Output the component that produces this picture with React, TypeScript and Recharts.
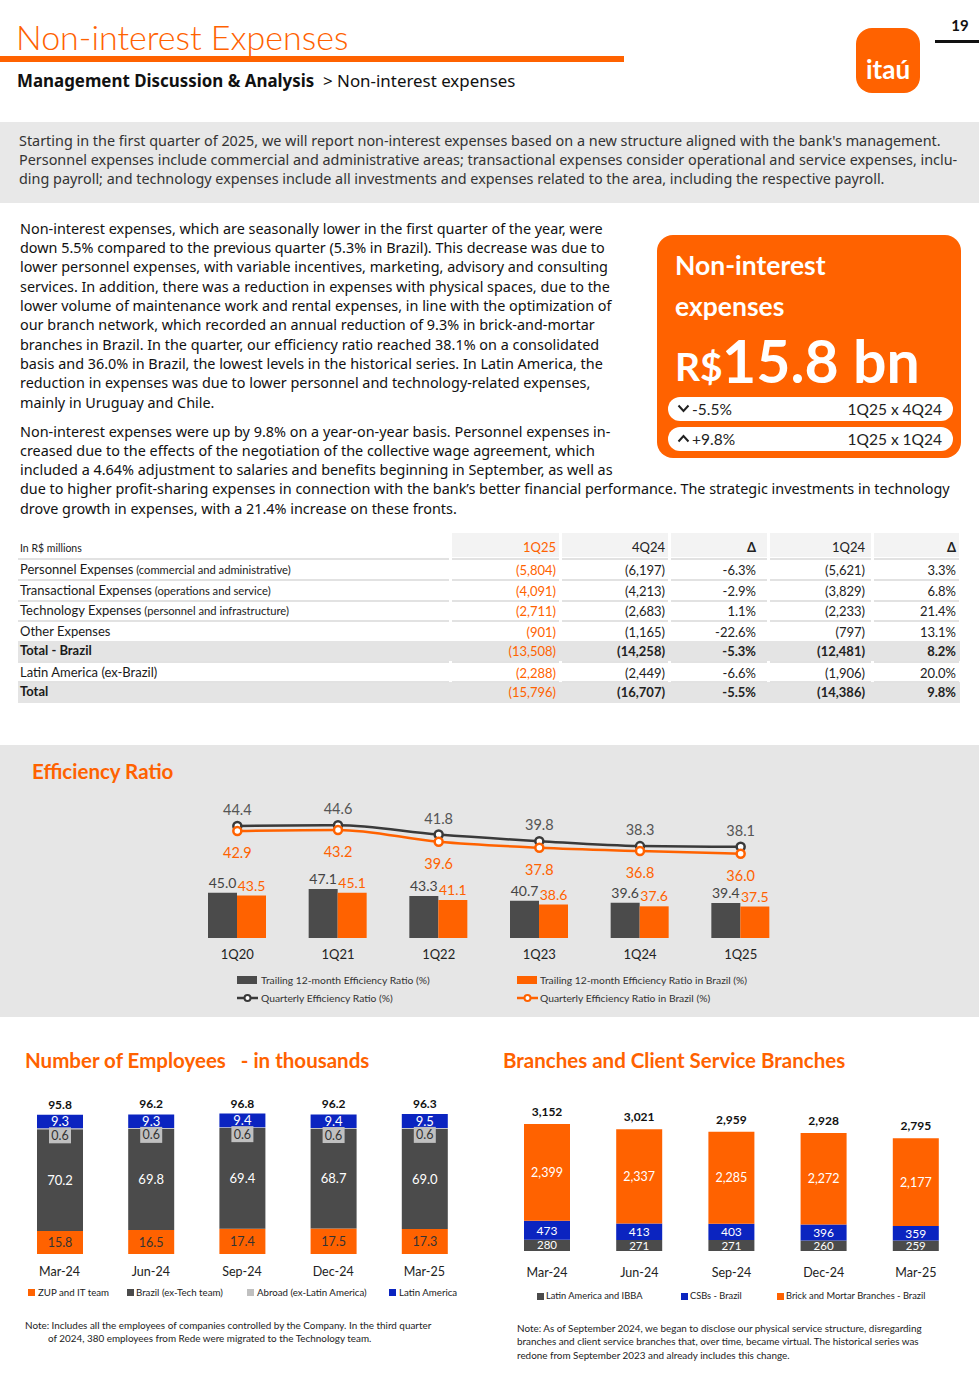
import React from 'react';
import { ComposedChart, BarChart, Bar, Line, XAxis, YAxis, LabelList } from 'recharts';

const ORANGE = '#ff6200';
const DARK = '#4b4b4b';
const BLUE = '#0b24c0';
const LGREY = '#c0c0c0';
const TXT = '#1a1a1a';
const FONT = 'Lato, "Noto Sans", sans-serif';
const BODY = '"Noto Sans", Lato, sans-serif';

// ---------- Efficiency ratio ----------
const effQuarters = ['1Q20', '1Q21', '1Q22', '1Q23', '1Q24', '1Q25'];
const effTrailing = [45.0, 47.1, 43.3, 40.7, 39.6, 39.4];
const effTrailingBrazil = [43.5, 45.1, 41.1, 38.6, 37.6, 37.5];
const effQuarterly = [44.4, 44.6, 41.8, 39.8, 38.3, 38.1];
const effQuarterlyBrazil = [42.9, 43.2, 39.6, 37.8, 36.8, 36.0];

// ---------- Employees (thousands) ----------
const empDates = ['Mar-24', 'Jun-24', 'Sep-24', 'Dec-24', 'Mar-25'];
const empZup = [15.8, 16.5, 17.4, 17.5, 17.3];
const empBrazil = [70.2, 69.8, 69.4, 68.7, 69.0];
const empAbroad = [0.6, 0.6, 0.6, 0.6, 0.6];
const empLatam = [9.3, 9.3, 9.4, 9.4, 9.5];
const empTotal = [95.8, 96.2, 96.8, 96.2, 96.3];

// ---------- Branches ----------
const brDates = ['Mar-24', 'Jun-24', 'Sep-24', 'Dec-24', 'Mar-25'];
const brLatam = [280, 271, 271, 260, 259];
const brCsb = [473, 413, 403, 396, 359];
const brBrick = [2399, 2337, 2285, 2272, 2177];
const brTotal = [3152, 3021, 2959, 2928, 2795];

// ---------- Table ----------
const tableCols = ['1Q25', '4Q24', 'Δ', '1Q24', 'Δ'];
const tableLabels = ['Personnel Expenses', 'Transactional Expenses', 'Technology Expenses', 'Other Expenses', 'Total - Brazil', 'Latin America (ex-Brazil)', 'Total'];
const tableSubs = ['(commercial and administrative)', '(operations and service)', '(personnel and infrastructure)', '', '', '', ''];
const table1Q25 = ['(5,804)', '(4,091)', '(2,711)', '(901)', '(13,508)', '(2,288)', '(15,796)'];
const table4Q24 = ['(6,197)', '(4,213)', '(2,683)', '(1,165)', '(14,258)', '(2,449)', '(16,707)'];
const tableDeltaQ = ['-6.3%', '-2.9%', '1.1%', '-22.6%', '-5.3%', '-6.6%', '-5.5%'];
const table1Q24 = ['(5,621)', '(3,829)', '(2,233)', '(797)', '(12,481)', '(1,906)', '(14,386)'];
const tableDeltaY = ['3.3%', '6.8%', '21.4%', '13.1%', '8.2%', '20.0%', '9.8%'];
const tableBold = [false, false, false, false, true, false, true];

// ---------- Text ----------
const introLines = [
  "Starting in the first quarter of 2025, we will report non-interest expenses based on a new structure aligned with the bank's management.",
  'Personnel expenses include commercial and administrative areas; transactional expenses consider operational and service expenses, inclu-',
  'ding payroll; and technology expenses include all investments and expenses related to the area, including the respective payroll.',
];
const para1 = [
  'Non-interest expenses, which are seasonally lower in the first quarter of the year, were',
  'down 5.5% compared to the previous quarter (5.3% in Brazil). This decrease was due to',
  'lower personnel expenses, with variable incentives, marketing, advisory and consulting',
  'services. In addition, there was a reduction in expenses with physical spaces, due to the',
  'lower volume of maintenance work and rental expenses, in line with the optimization of',
  'our branch network, which recorded an annual reduction of 9.3% in brick-and-mortar',
  'branches in Brazil. In the quarter, our efficiency ratio reached 38.1% on a consolidated',
  'basis and 36.0% in Brazil, the lowest levels in the historical series. In Latin America, the',
  'reduction in expenses was due to lower personnel and technology-related expenses,',
  'mainly in Uruguay and Chile.',
];
const para2 = [
  'Non-interest expenses were up by 9.8% on a year-on-year basis. Personnel expenses in-',
  'creased due to the effects of the negotiation of the collective wage agreement, which',
  'included a 4.64% adjustment to salaries and benefits beginning in September, as well as',
  'due to higher profit-sharing expenses in connection with the bank’s better financial performance. The strategic investments in technology',
  'drove growth in expenses, with a 21.4% increase on these fronts.',
];

type TP = { x: number; y: number; size?: number; color?: string; weight?: number; align?: 'left' | 'right' | 'center'; children?: React.ReactNode; lh?: number; family?: string; ls?: number };
function T({ x, y, size = 14, color = TXT, weight = 400, align = 'left', children, lh, family = FONT, ls }: TP) {
  const lineH = lh ?? Math.round(size * 1.3);
  const style: React.CSSProperties = { position: 'absolute', top: y - lineH / 2, fontSize: size, lineHeight: lineH + 'px', color, fontWeight: weight, whiteSpace: 'nowrap', fontFamily: family };
  if (ls !== undefined) style.letterSpacing = ls;
  if (align === 'right') style.right = 979 - x;
  else if (align === 'center') { style.left = x; style.transform = 'translateX(-50%)'; }
  else style.left = x;
  return <div style={style}>{children}</div>;
}

function Box({ x, y, w, h, bg, r = 0 }: { x: number; y: number; w: number; h: number; bg: string; r?: number }) {
  return <div style={{ position: 'absolute', left: x, top: y, width: w, height: h, background: bg, borderRadius: r }} />;
}

const vbOf = (p: any) => {
  const vb = p.viewBox || {};
  return { x: vb.x ?? p.x, y: vb.y ?? p.y, width: vb.width ?? p.width ?? 0, height: vb.height ?? p.height ?? 0 };
};

const centerLabel = (color: string, size: number, fmt: (v: number) => string = (v) => String(v), weight = 400) => (p: any) => {
  const { x, y, width, height } = vbOf(p);
  return (
    <text x={x + width / 2} y={y + height / 2} dy={size * 0.36} textAnchor="middle" fill={color} fontSize={size} fontWeight={weight} fontFamily={FONT}>
      {fmt(Number(p.value))}
    </text>
  );
};

const topLabel = (color: string, size: number, gap: number, fmt: (v: number) => string = (v) => String(v), weight = 400) => (p: any) => {
  const { x, y, width } = vbOf(p);
  return (
    <text x={x + width / 2} y={y - gap} textAnchor="middle" fill={color} fontSize={size} fontWeight={weight} fontFamily={FONT}>
      {fmt(Number(p.value))}
    </text>
  );
};

const pointLabel = (color: string, size: number, dyBaseline: number) => (p: any) => {
  const { x, y } = vbOf(p);
  return (
    <text x={x} y={y + dyBaseline} textAnchor="middle" fill={color} fontSize={size} fontFamily={FONT}>
      {Number(p.value).toFixed(1)}
    </text>
  );
};

const abroadLabel = (p: any) => {
  const { x, y, width } = vbOf(p);
  const cx = x + width / 2;
  return (
    <g>
      <rect x={cx - 11} y={y - 1} width={22} height={16} fill={LGREY} />
      <text x={cx} y={y + 11.5} textAnchor="middle" fill="#333" fontSize={12.5} fontFamily={FONT}>{Number(p.value).toFixed(1)}</text>
    </g>
  );
};

const xTick = (offset: number, size: number) => (props: any) => {
  const { x, y, payload } = props;
  return (
    <text x={x} y={y + offset} textAnchor="middle" fill="#222" fontSize={size} fontFamily={FONT}>{payload.value}</text>
  );
};

const effData = effQuarters.map((q, i) => ({ q, t: effTrailing[i], tb: effTrailingBrazil[i], qr: effQuarterly[i], qb: effQuarterlyBrazil[i] }));
const empData = empDates.map((d, i) => ({ d, zup: empZup[i], br: empBrazil[i], ab: empAbroad[i], la: empLatam[i], total: empTotal[i] }));
const brData = brDates.map((d, i) => ({ d, la: brLatam[i], csb: brCsb[i], brick: brBrick[i], total: brTotal[i] }));
const fmtComma = (v: number) => v.toLocaleString('en-US');
const fmt1 = (v: number) => v.toFixed(1);

function EfficiencyChart() {
  return (
    <div style={{ position: 'absolute', left: 187, top: 780 }}>
      <ComposedChart width={604} height={188} data={effData} margin={{ top: 10, right: 0, bottom: 0, left: 0 }} barGap={0} barCategoryGap="21%">
        <XAxis dataKey="q" axisLine={false} tickLine={false} tickSize={0} tickMargin={0} height={30} interval={0} tick={xTick(20.5, 13)} />
        <YAxis yAxisId="b" hide domain={[20.2, 101.5]} allowDataOverflow />
        <YAxis yAxisId="l" hide domain={[10.46, 55.3]} allowDataOverflow />
        <Bar yAxisId="b" dataKey="t" fill={DARK} barSize={29} isAnimationActive={false}>
          <LabelList dataKey="t" content={topLabel('#444', 14, 5, fmt1)} />
        </Bar>
        <Bar yAxisId="b" dataKey="tb" fill={ORANGE} barSize={29} isAnimationActive={false}>
          <LabelList dataKey="tb" content={topLabel(ORANGE, 14, 5, fmt1)} />
        </Bar>
        <Line yAxisId="l" type="monotone" dataKey="qr" stroke="#3a3a3a" strokeWidth={2.5} dot={{ r: 4, fill: '#fff', stroke: '#3a3a3a', strokeWidth: 2.5 }} isAnimationActive={false}>
          <LabelList dataKey="qr" content={pointLabel('#555', 14.5, -11)} />
        </Line>
        <Line yAxisId="l" type="monotone" dataKey="qb" stroke={ORANGE} strokeWidth={2.5} dot={{ r: 4, fill: '#fff', stroke: ORANGE, strokeWidth: 2.5 }} isAnimationActive={false}>
          <LabelList dataKey="qb" content={pointLabel(ORANGE, 14.5, 27)} />
        </Line>
      </ComposedChart>
    </div>
  );
}

function EmployeesChart() {
  return (
    <div style={{ position: 'absolute', left: 14, top: 1085 }}>
      <BarChart width={456} height={199} data={empData} margin={{ top: 5, right: 0, bottom: 0, left: 0 }}>
        <XAxis dataKey="d" axisLine={false} tickLine={false} tickSize={0} tickMargin={0} height={30} interval={0} tick={xTick(21.5, 12.5)} />
        <YAxis hide domain={[0, 113]} allowDataOverflow />
        <Bar dataKey="zup" stackId="a" fill={ORANGE} barSize={46} isAnimationActive={false}>
          <LabelList dataKey="zup" content={centerLabel('#333', 12.5, fmt1)} />
        </Bar>
        <Bar dataKey="br" stackId="a" fill={DARK} barSize={46} isAnimationActive={false}>
          <LabelList dataKey="br" content={centerLabel('#fff', 13, fmt1)} />
        </Bar>
        <Bar dataKey="ab" stackId="a" fill={LGREY} barSize={46} isAnimationActive={false}>
          <LabelList dataKey="ab" content={abroadLabel} />
        </Bar>
        <Bar dataKey="la" stackId="a" fill={BLUE} barSize={46} isAnimationActive={false}>
          <LabelList dataKey="la" content={centerLabel('#fff', 13, fmt1)} />
          <LabelList dataKey="total" content={topLabel('#111', 12, 6, fmt1, 700)} />
        </Bar>
      </BarChart>
    </div>
  );
}

function BranchesChart() {
  return (
    <div style={{ position: 'absolute', left: 501, top: 1085 }}>
      <BarChart width={461} height={196} data={brData} margin={{ top: 5, right: 0, bottom: 0, left: 0 }}>
        <XAxis dataKey="d" axisLine={false} tickLine={false} tickSize={0} tickMargin={0} height={30} interval={0} tick={xTick(25.5, 12.5)} />
        <YAxis hide domain={[0, 3995]} allowDataOverflow />
        <Bar dataKey="la" stackId="a" fill={DARK} barSize={46} isAnimationActive={false}>
          <LabelList dataKey="la" content={centerLabel('#fff', 11.5, fmtComma)} />
        </Bar>
        <Bar dataKey="csb" stackId="a" fill={BLUE} barSize={46} isAnimationActive={false}>
          <LabelList dataKey="csb" content={centerLabel('#fff', 12, fmtComma)} />
        </Bar>
        <Bar dataKey="brick" stackId="a" fill={ORANGE} barSize={46} isAnimationActive={false}>
          <LabelList dataKey="brick" content={centerLabel('#fff', 12.5, fmtComma)} />
          <LabelList dataKey="total" content={topLabel('#111', 12, 8, fmtComma, 700)} />
        </Bar>
      </BarChart>
    </div>
  );
}

function Chevron({ x, y, up }: { x: number; y: number; up?: boolean }) {
  return (
    <svg style={{ position: 'absolute', left: x, top: y }} width={13} height={9}>
      <path d={up ? 'M1.5 7.5 L6.5 2 L11.5 7.5' : 'M1.5 1.5 L6.5 7 L11.5 1.5'} stroke="#222" strokeWidth={2} fill="none" />
    </svg>
  );
}

function LegendSquare({ x, y, color, w = 7, h = 7 }: { x: number; y: number; color: string; w?: number; h?: number }) {
  return <Box x={x} y={y - h / 2} w={w} h={h} bg={color} />;
}

function LegendLine({ x, y, color }: { x: number; y: number; color: string }) {
  return (
    <svg style={{ position: 'absolute', left: x, top: y - 5 }} width={21} height={10}>
      <line x1={0} y1={5} x2={21} y2={5} stroke={color} strokeWidth={2.5} />
      <circle cx={10.5} cy={5} r={3} fill="#fff" stroke={color} strokeWidth={2} />
    </svg>
  );
}

function Table() {
  const colCells = [[452, 559], [562, 668], [671, 767], [770, 871], [874, 959]];
  const colRight = [556, 665, 756, 865, 956];
  const rowY = [569, 590, 610, 631, 650, 672, 691];
  const cols = [table1Q25, table4Q24, tableDeltaQ, table1Q24, tableDeltaY];
  const sepY = [558, 579, 600, 620, 661, 681];
  const segs = [[18, 449], ...colCells];
  return (
    <>
      {colCells.map((c, i) => <Box key={'h' + i} x={c[0]} y={533} w={c[1] - c[0]} h={24} bg="#f3f3f3" />)}
      <Box x={18} y={641} w={942} h={20} bg="#e4e4e4" />
      <Box x={18} y={682} w={942} h={21} bg="#e4e4e4" />
      {sepY.map((y) => segs.map((s, j) => <Box key={y + '-' + j} x={s[0]} y={y} w={s[1] - s[0]} h={1.5} bg="#e2e2e2" />))}
      <T x={20} y={548} size={10.5} color="#222">In R$ millions</T>
      {tableCols.map((c, i) => (
        <T key={'c' + i} x={colRight[i]} y={547} size={13} align="right" color={i === 0 ? ORANGE : '#222'} weight={c === 'Δ' ? 700 : 400}>{c}</T>
      ))}
      {tableLabels.map((l, r) => (
        <T key={'l' + r} x={20} y={rowY[r]} size={13} weight={tableBold[r] ? 700 : 400}>
          {l}{tableSubs[r] ? <span style={{ fontSize: 11.2 }}> {tableSubs[r]}</span> : null}
        </T>
      ))}
      {cols.map((col, i) => col.map((v, r) => (
        <T key={i + '-' + r} x={colRight[i]} y={rowY[r] + 1} size={13} align="right" color={i === 0 ? ORANGE : '#222'} weight={tableBold[r] && i > 0 ? 700 : 400}>{v}</T>
      )))}
    </>
  );
}

export default function App() {
  return (
    <div style={{ position: 'relative', width: 979, height: 1393, background: '#fff', overflow: 'hidden', fontFamily: FONT }}>
      <style>{'body{margin:0;}'}</style>
      {/* Header */}
      <T x={16} y={37} size={34} weight={300} color={ORANGE}>Non-interest Expenses</T>
      <Box x={0} y={56} w={624} h={6} bg={ORANGE} />
      <T x={17} y={81} size={16.9} color="#111" family={BODY}><b>Management Discussion &amp; Analysis</b>&nbsp; &gt; Non-interest expenses</T>
      <T x={960} y={25} size={15} weight={700} align="center" color="#111">19</T>
      <Box x={935} y={40} w={44} h={3} bg="#111" />
      <Box x={856} y={28} w={64} h={65} bg={ORANGE} r={16} />
      <T x={888} y={69} size={26} weight={700} align="center" color="#fff">itaú</T>

      {/* Intro grey box */}
      <Box x={0} y={122} w={979} h={81} bg="#e8e8e8" />
      {introLines.map((l, i) => <T key={'i' + i} x={19} y={140 + i * 19} size={14.4} color="#333" family={BODY}>{l}</T>)}

      {/* Paragraphs */}
      {para1.map((l, i) => <T key={'p1' + i} x={20} y={228 + i * 19.35} size={14.4} color="#111" family={BODY}>{l}</T>)}
      {para2.map((l, i) => <T key={'p2' + i} x={20} y={431 + i * 19.3} size={14.4} color="#111" family={BODY}>{l}</T>)}

      {/* Highlight card */}
      <Box x={657} y={235} w={304} h={223} bg={ORANGE} r={16} />
      <T x={675} y={265} size={26.5} weight={700} color="#fff">Non-interest</T>
      <T x={675} y={306} size={26.5} weight={700} color="#fff">expenses</T>
      <T x={675} y={366} size={39} weight={700} color="#fff">R$</T>
      <T x={722} y={360} size={59} weight={700} color="#fff">15.8 bn</T>
      <Box x={668} y={397} w={285} h={24} bg="#fff" r={12} />
      <Box x={668} y={427} w={285} h={24} bg="#fff" r={12} />
      <Chevron x={677} y={404} />
      <Chevron x={677} y={434} up />
      <T x={692} y={409} size={15.5} color="#222">-5.5%</T>
      <T x={942} y={409} size={15.5} color="#222" align="right">1Q25 x 4Q24</T>
      <T x={692} y={439} size={15.5} color="#222">+9.8%</T>
      <T x={942} y={439} size={15.5} color="#222" align="right">1Q25 x 1Q24</T>

      {/* Table */}
      <Table />

      {/* Efficiency section */}
      <Box x={0} y={745} w={979} h={272} bg="#e6e6e6" />
      <T x={32} y={771} size={20.5} weight={700} color={ORANGE}>Efficiency Ratio</T>
      <EfficiencyChart />
      <LegendSquare x={237} y={980} color={DARK} w={20} h={8} />
      <T x={261} y={980} size={10.3} color="#333">Trailing 12-month Efficiency Ratio (%)</T>
      <LegendLine x={237} y={998} color="#3a3a3a" />
      <T x={261} y={998} size={10.3} color="#333">Quarterly Efficiency Ratio (%)</T>
      <LegendSquare x={517} y={980} color={ORANGE} w={20} h={8} />
      <T x={540} y={980} size={10.3} color="#333">Trailing 12-month Efficiency Ratio in Brazil (%)</T>
      <LegendLine x={517} y={998} color={ORANGE} />
      <T x={540} y={998} size={10.3} color="#333">Quarterly Efficiency Ratio in Brazil (%)</T>

      {/* Employees */}
      <T x={25} y={1060} size={20.5} weight={700} color={ORANGE}>Number of Employees&nbsp;&nbsp; - in thousands</T>
      <EmployeesChart />
      <LegendSquare x={28} y={1292} color={ORANGE} />
      <T x={38} y={1292} size={9.7} color="#222">ZUP and IT team</T>
      <LegendSquare x={127} y={1292} color={DARK} />
      <T x={136} y={1292} size={9.7} color="#222">Brazil (ex-Tech team)</T>
      <LegendSquare x={247} y={1292} color={LGREY} />
      <T x={257} y={1292} size={9.7} color="#222">Abroad (ex-Latin America)</T>
      <LegendSquare x={389} y={1292} color={BLUE} />
      <T x={399} y={1292} size={9.7} color="#222">Latin America</T>
      <T x={25} y={1325} size={9.9} color="#222">Note: Includes all the employees of companies controlled by the Company. In the third quarter</T>
      <T x={48} y={1338} size={9.9} color="#222">of 2024, 380 employees from Rede were migrated to the Technology team.</T>

      {/* Branches */}
      <T x={503} y={1060} size={20.5} weight={700} color={ORANGE}>Branches and Client Service Branches</T>
      <BranchesChart />
      <LegendSquare x={537} y={1296} color={DARK} />
      <T x={546} y={1296} size={9.3} color="#222">Latin America and IBBA</T>
      <LegendSquare x={681} y={1296} color={BLUE} />
      <T x={690} y={1296} size={9.3} color="#222">CSBs - Brazil</T>
      <LegendSquare x={777} y={1296} color={ORANGE} />
      <T x={786} y={1296} size={9.3} color="#222">Brick and Mortar Branches - Brazil</T>
      <T x={517} y={1328} size={9.9} color="#222">Note: As of September 2024, we began to disclose our physical service structure, disregarding</T>
      <T x={517} y={1341} size={9.9} color="#222">branches and client service branches that, over time, became virtual. The historical series was</T>
      <T x={517} y={1355} size={9.9} color="#222">redone from September 2023 and already includes this change.</T>
    </div>
  );
}
